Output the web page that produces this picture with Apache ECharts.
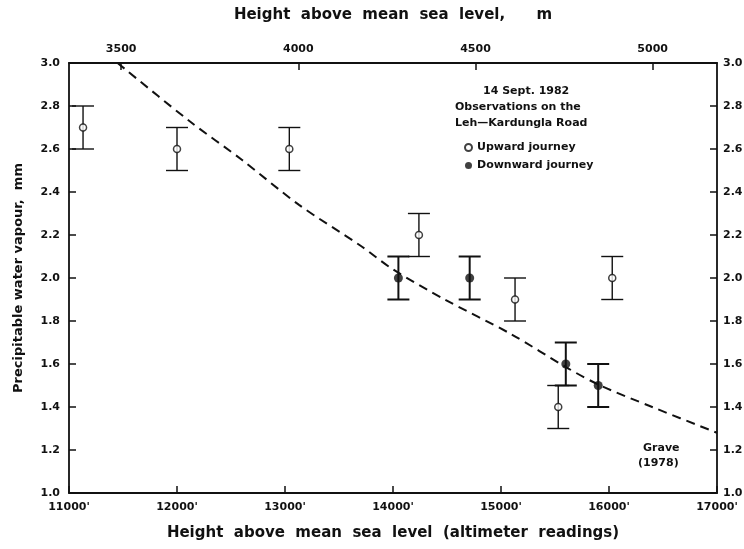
<!DOCTYPE html>
<html lang="en">
<head>
  <meta charset="UTF-8">
  <title>Precipitable water vapour on the Leh-Kardungla Road</title>
  <script src="https://cdn.jsdelivr.net/npm/echarts@6.0.0/dist/echarts.min.js"></script>
  <style>
    html, body, #main {
      margin: 0;
      padding: 0;
      width: 744px;
      height: 549px;
      background: #fff;
    }
  </style>
</head>
<body>
  <div id="main"></div>

  <script>
    // heights in feet (altimeter readings), water vapour in mm
    const upX = [11130, 12000, 13040, 14240, 15130, 15530, 16030];
    const upY = [2.70, 2.60, 2.60, 2.20, 1.90, 1.40, 2.00];
    const upLow = [2.60, 2.50, 2.50, 2.10, 1.80, 1.30, 1.90];
    const upHigh = [2.80, 2.70, 2.70, 2.30, 2.00, 1.50, 2.10];

    const downX = [14050, 14710, 15600, 15900];
    const downY = [2.00, 2.00, 1.60, 1.50];
    const downLow = [1.90, 1.90, 1.50, 1.40];
    const downHigh = [2.10, 2.10, 1.70, 1.60];

    // Grave (1978) curve
    const graveX = [11450, 12115, 12600, 13130, 13700, 14000, 14480, 15090, 15620, 15920, 16400, 17000];
    const graveY = [3.00, 2.73, 2.55, 2.34, 2.15, 2.04, 1.90, 1.74, 1.58, 1.50, 1.40, 1.28];

    const meterTicks = [3500, 4000, 4500, 5000];
    const FT = 0.3048;

    const font = 'DejaVu Sans';
    const ink = '#111';

    const upPts = upX.map((x, i) => [x, upY[i]]);
    const downPts = downX.map((x, i) => [x, downY[i]]);
    const upBars = upX.map((x, i) => [x, upLow[i], upHigh[i]]);
    const downBars = downX.map((x, i) => [x, downLow[i], downHigh[i]]);
    const gravePts = graveX.map((x, i) => [x, graveY[i]]);

    function errorBar(lw) {
      return function (params, api) {
        const x = api.value(0);
        const lo = api.coord([x, api.value(1)]);
        const hi = api.coord([x, api.value(2)]);
        const hw = 11;
        const st = { stroke: ink, lineWidth: lw };
        return {
          type: 'group',
          children: [
            { type: 'line', shape: { x1: hi[0], y1: hi[1], x2: lo[0], y2: lo[1] }, style: st },
            { type: 'line', shape: { x1: hi[0] - hw, y1: hi[1], x2: hi[0] + hw, y2: hi[1] }, style: st },
            { type: 'line', shape: { x1: lo[0] - hw, y1: lo[1], x2: lo[0] + hw, y2: lo[1] }, style: st }
          ]
        };
      };
    }

    const axisLine = { lineStyle: { color: ink, width: 1.8 } };
    const tick = { inside: true, length: 7, lineStyle: { color: ink, width: 1.5 } };
    const labelStyle = { color: ink, fontFamily: font, fontWeight: 'bold', fontSize: 11 };
    const nameStyle = { color: ink, fontFamily: font, fontWeight: 'bold', fontSize: 15 };

    const chart = echarts.init(document.getElementById('main'), null, { renderer: 'canvas' });
    const option = {
      backgroundColor: '#fff',
      animation: false,
      grid: { left: 69, right: 27, top: 63, bottom: 56, outerBoundsMode: 'none' },
      legend: {
        orient: 'vertical',
        left: 459,
        top: 137,
        itemGap: 7,
        itemWidth: 7,
        itemHeight: 7,
        data: ['Upward journey', 'Downward journey'],
        textStyle: { color: ink, fontFamily: font, fontWeight: 'bold', fontSize: 11 }
      },
      graphic: [
        { type: 'text', left: 483, top: 86, style: { text: '14 Sept. 1982', fill: ink, font: 'bold 11px "DejaVu Sans"' } },
        { type: 'text', left: 455, top: 102, style: { text: 'Observations on the', fill: ink, font: 'bold 11px "DejaVu Sans"' } },
        { type: 'text', left: 455, top: 118, style: { text: 'Leh\u2014Kardungla Road', fill: ink, font: 'bold 11px "DejaVu Sans"' } },
        { type: 'text', left: 643, top: 443, style: { text: 'Grave', fill: ink, font: 'bold 11px "DejaVu Sans"' } },
        { type: 'text', left: 638, top: 458, style: { text: '(1978)', fill: ink, font: 'bold 11px "DejaVu Sans"' } }
      ],
      xAxis: [
        {
          type: 'value',
          position: 'bottom',
          min: 11000,
          max: 17000,
          interval: 1000,
          name: 'Height  above  mean  sea  level  (altimeter  readings)',
          nameLocation: 'middle',
          nameGap: 33,
          nameTextStyle: nameStyle,
          axisLine: axisLine,
          axisTick: tick,
          splitLine: { show: false },
          axisLabel: Object.assign({ margin: 9, formatter: v => v + "'" }, labelStyle)
        },
        {
          type: 'value',
          position: 'top',
          min: 11000 * FT,
          max: 17000 * FT,
          name: 'Height  above  mean  sea  level,      m',
          nameLocation: 'middle',
          nameGap: 40,
          nameTextStyle: nameStyle,
          axisLine: axisLine,
          axisTick: Object.assign({ customValues: meterTicks }, tick),
          splitLine: { show: false },
          axisLabel: Object.assign({ margin: 8, customValues: meterTicks, formatter: v => String(Math.round(v)) }, labelStyle)
        }
      ],
      yAxis: [
        {
          type: 'value',
          position: 'left',
          min: 1,
          max: 3,
          interval: 0.2,
          name: 'Precipitable water vapour,  mm',
          nameLocation: 'middle',
          nameGap: 44,
          nameTextStyle: Object.assign({}, nameStyle, { fontSize: 13 }),
          axisLine: axisLine,
          axisTick: tick,
          splitLine: { show: false },
          axisLabel: Object.assign({ margin: 9, formatter: v => v.toFixed(1) }, labelStyle)
        },
        {
          type: 'value',
          position: 'right',
          min: 1,
          max: 3,
          interval: 0.2,
          axisLine: axisLine,
          axisTick: tick,
          splitLine: { show: false },
          axisLabel: Object.assign({ margin: 6, formatter: v => v.toFixed(1) }, labelStyle)
        }
      ],
      series: [
        {
          name: 'Grave (1978)',
          type: 'line',
          data: gravePts,
          smooth: 0.3,
          symbol: 'none',
          lineStyle: { color: ink, width: 2, type: [9, 6] },
          z: 1
        },
        {
          name: 'up bars',
          type: 'custom',
          renderItem: errorBar(1.4),
          data: upBars,
          encode: { x: 0, y: [1, 2] },
          z: 2
        },
        {
          name: 'down bars',
          type: 'custom',
          renderItem: errorBar(2),
          data: downBars,
          encode: { x: 0, y: [1, 2] },
          z: 2
        },
        {
          name: 'Upward journey',
          type: 'scatter',
          data: upPts,
          symbol: 'circle',
          symbolSize: 7,
          itemStyle: { color: '#fff', borderColor: ink, borderWidth: 1.5 },
          z: 3
        },
        {
          name: 'Downward journey',
          type: 'scatter',
          data: downPts,
          symbol: 'circle',
          symbolSize: 9,
          itemStyle: { color: ink },
          z: 3
        }
      ]
    };

    chart.setOption(option);
  </script>
</body>
</html>
